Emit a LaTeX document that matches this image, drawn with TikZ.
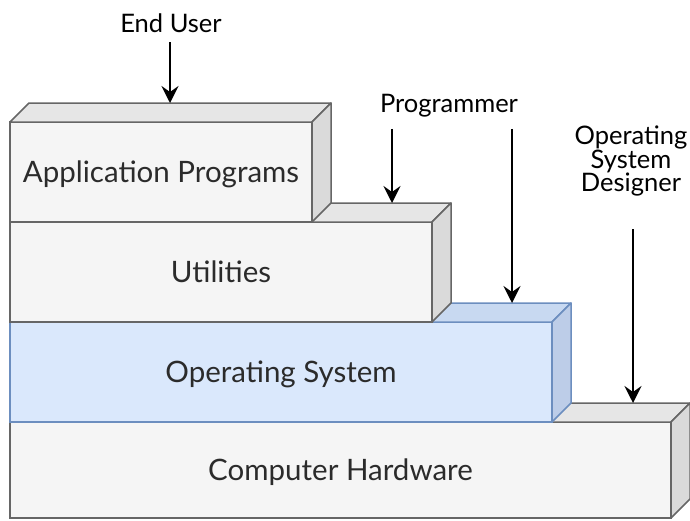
\documentclass[tikz,border=0pt]{standalone}
\usepackage{fontspec}
\setmainfont{Lato}
\usetikzlibrary{calc, arrows.meta}

\definecolor{frontgray}{HTML}{F5F5F5}
\definecolor{topgray}{HTML}{E6E6E6}
\definecolor{sidegray}{HTML}{DADADA}
\definecolor{edgegray}{HTML}{666666}
\definecolor{frontblue}{HTML}{DAE8FC}
\definecolor{topblue}{HTML}{C8D9F1}
\definecolor{sideblue}{HTML}{BDCDE8}
\definecolor{edgeblue}{HTML}{6C8EBF}
\definecolor{labelgray}{HTML}{2B2B2B}

\tikzset{
    layer/.style={draw=edgegray, fill=frontgray, line width=1.5pt, anchor=north west,
        inner sep=0pt, outer sep=0pt, minimum height=100pt, text=labelgray,
        font=\fontsize{29.5}{29.5}\selectfont, text height=21pt, text depth=0pt},
    bluelayer/.style={layer, draw=edgeblue, fill=frontblue},
    who/.style={font=\fontsize{25.5}{23.5}\selectfont, align=center, inner sep=0pt, text=black},
    push/.style={line width=2pt, -{Stealth[length=17pt,width=17pt,inset=6pt]}}
}

% top and right faces of a layer: node, top fill, side fill, edge colour
\newcommand{\layerfaces}[4]{
    \filldraw[line width=1.5pt, line join=round, draw=#4, fill=#2] (#1.north west) -- ++(19,-19)
        -- ($(#1.north east)+(19,-19)$) -- (#1.north east) -- cycle;
    \filldraw[line width=1.5pt, line join=round, draw=#4, fill=#3] (#1.north east) -- ++(19,-19)
        -- ($(#1.south east)+(19,-19)$) -- (#1.south east) -- cycle;
}

\begin{document}
\begin{tikzpicture}[x=1pt, y=-1pt]
    \useasboundingbox (0,0) rectangle (690,520);

    \node[layer, minimum width=661pt, minimum height=96pt] (hw) at (10,422) {Computer Hardware};
    \layerfaces{hw}{topgray}{sidegray}{edgegray}
    \node[bluelayer, minimum width=542pt] (os) at (10,322) {Operating System};
    \layerfaces{os}{topblue}{sideblue}{edgeblue}
    \node[layer, minimum width=422pt] (ut) at (10,222) {Utilities};
    \layerfaces{ut}{topgray}{sidegray}{edgegray}
    \node[layer, minimum width=302pt] (app) at (10,122) {Application Programs};
    \layerfaces{app}{topgray}{sidegray}{edgegray}

    \node[who, anchor=base] (user) at (171,32) {End User};
    \node[who, anchor=base] (prog) at (449,112) {Programmer};
    \node[who] (osd) at (631,161) {Operating\\System\\Designer};

    \coordinate (hit-app) at (170,103);
    \coordinate (hit-ut) at (392,203);
    \coordinate (hit-os) at (512,303);
    \coordinate (hit-hw) at (633,403);

    \draw[push, shorten <=10pt] (user.south -| hit-app) -- (hit-app);
    \draw[push, shorten <=12pt] (prog.south -| hit-ut) -- (hit-ut);
    \draw[push, shorten <=12pt] (prog.south -| hit-os) -- (hit-os);
    \draw[push, shorten <=33pt] (osd.south -| hit-hw) -- (hit-hw);
\end{tikzpicture}
\end{document}
